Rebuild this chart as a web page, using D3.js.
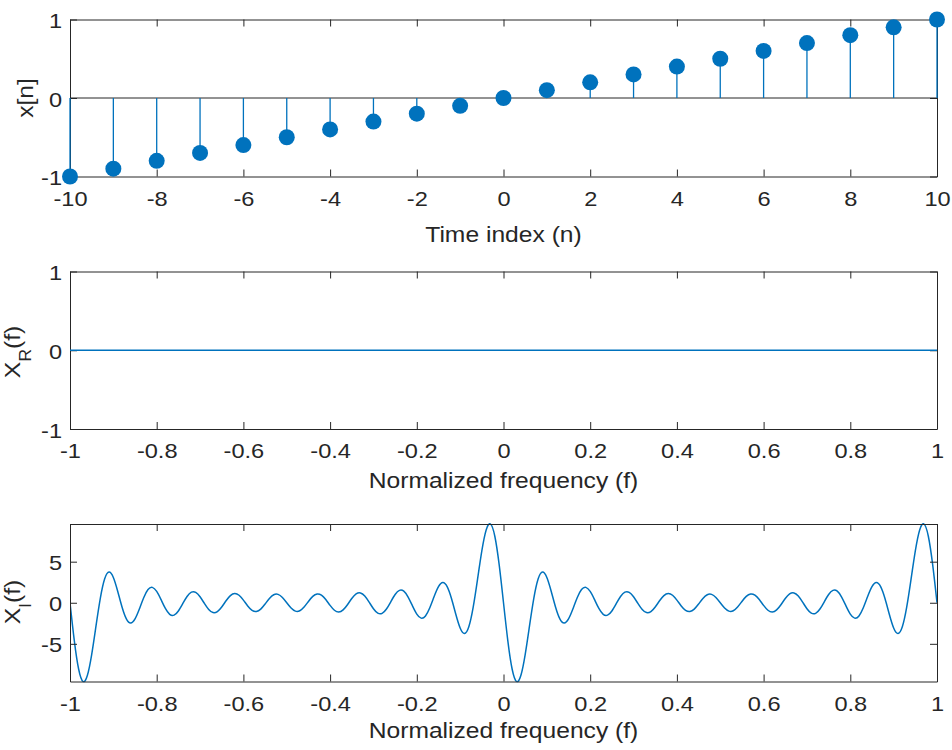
<!DOCTYPE html>
<html>
<head>
<meta charset="utf-8">
<script src="https://cdn.jsdelivr.net/npm/d3@7"></script>
<style>
  html, body { margin: 0; padding: 0; background: #ffffff; }
  svg { display: block; }
</style>
</head>
<body>
<svg id="chart" width="952" height="750"></svg>
<script>
// ---------------- DATA ----------------
const timeIndex = [-10,-9,-8,-7,-6,-5,-4,-3,-2,-1,0,1,2,3,4,5,6,7,8,9,10];
const xnValues  = [-1,-0.9,-0.8,-0.7,-0.6,-0.5,-0.4,-0.3,-0.2,-0.1,0,0.1,0.2,0.3,0.4,0.5,0.6,0.7,0.8,0.9,1];

const timeTicks = [-10,-8,-6,-4,-2,0,2,4,6,8,10];
const freqTicks = [-1,-0.8,-0.6,-0.4,-0.2,0,0.2,0.4,0.6,0.8,1];
const unitTicks = [-1,0,1];
const imagTicks = [-5,0,5];

// real part (flat zero line)
const realFreq   = [-1, 1];
const realValues = [0, 0];

// imaginary part, sampled every 0.01 in normalized frequency
const imagFreq = [
 -1.00,-0.99,-0.98,-0.97,-0.96,-0.95,-0.94,-0.93,-0.92,-0.91,
 -0.90,-0.89,-0.88,-0.87,-0.86,-0.85,-0.84,-0.83,-0.82,-0.81,
 -0.80,-0.79,-0.78,-0.77,-0.76,-0.75,-0.74,-0.73,-0.72,-0.71,
 -0.70,-0.69,-0.68,-0.67,-0.66,-0.65,-0.64,-0.63,-0.62,-0.61,
 -0.60,-0.59,-0.58,-0.57,-0.56,-0.55,-0.54,-0.53,-0.52,-0.51,
 -0.50,-0.49,-0.48,-0.47,-0.46,-0.45,-0.44,-0.43,-0.42,-0.41,
 -0.40,-0.39,-0.38,-0.37,-0.36,-0.35,-0.34,-0.33,-0.32,-0.31,
 -0.30,-0.29,-0.28,-0.27,-0.26,-0.25,-0.24,-0.23,-0.22,-0.21,
 -0.20,-0.19,-0.18,-0.17,-0.16,-0.15,-0.14,-0.13,-0.12,-0.11,
 -0.10,-0.09,-0.08,-0.07,-0.06,-0.05,-0.04,-0.03,-0.02,-0.01,
  0.00,
  0.01, 0.02, 0.03, 0.04, 0.05, 0.06, 0.07, 0.08, 0.09, 0.10,
  0.11, 0.12, 0.13, 0.14, 0.15, 0.16, 0.17, 0.18, 0.19, 0.20,
  0.21, 0.22, 0.23, 0.24, 0.25, 0.26, 0.27, 0.28, 0.29, 0.30,
  0.31, 0.32, 0.33, 0.34, 0.35, 0.36, 0.37, 0.38, 0.39, 0.40,
  0.41, 0.42, 0.43, 0.44, 0.45, 0.46, 0.47, 0.48, 0.49, 0.50,
  0.51, 0.52, 0.53, 0.54, 0.55, 0.56, 0.57, 0.58, 0.59, 0.60,
  0.61, 0.62, 0.63, 0.64, 0.65, 0.66, 0.67, 0.68, 0.69, 0.70,
  0.71, 0.72, 0.73, 0.74, 0.75, 0.76, 0.77, 0.78, 0.79, 0.80,
  0.81, 0.82, 0.83, 0.84, 0.85, 0.86, 0.87, 0.88, 0.89, 0.90,
  0.91, 0.92, 0.93, 0.94, 0.95, 0.96, 0.97, 0.98, 0.99, 1.00
];
const imagValues = [
  0,-4.632,-8.100,-9.589,-8.863,-6.314,-2.816, 0.568, 2.923, 3.750,
  3.078, 1.403,-0.521,-1.967,-2.469,-1.963,-0.757, 0.612, 1.604, 1.871,
  1.376, 0.377,-0.695,-1.410,-1.512,-1.000,-0.117, 0.763, 1.287, 1.262,
  0.727,-0.081,-0.822,-1.198,-1.071,-0.510, 0.243, 0.874, 1.128, 0.912,
  0.325,-0.385,-0.922,-1.070,-0.773,-0.158, 0.515, 0.970, 1.018, 0.643,
  0,-0.643,-1.018,-0.970,-0.515, 0.158, 0.773, 1.070, 0.922, 0.385,
 -0.325,-0.912,-1.128,-0.874,-0.243, 0.510, 1.071, 1.198, 0.822, 0.081,
 -0.727,-1.262,-1.287,-0.763, 0.117, 1.000, 1.512, 1.410, 0.695,-0.377,
 -1.376,-1.871,-1.604,-0.612, 0.757, 1.963, 2.469, 1.967, 0.521,-1.403,
 -3.078,-3.750,-2.923,-0.568, 2.816, 6.314, 8.863, 9.589, 8.100, 4.632,
  0,
 -4.632,-8.100,-9.589,-8.863,-6.314,-2.816, 0.568, 2.923, 3.750,
  3.078, 1.403,-0.521,-1.967,-2.469,-1.963,-0.757, 0.612, 1.604, 1.871,
  1.376, 0.377,-0.695,-1.410,-1.512,-1.000,-0.117, 0.763, 1.287, 1.262,
  0.727,-0.081,-0.822,-1.198,-1.071,-0.510, 0.243, 0.874, 1.128, 0.912,
  0.325,-0.385,-0.922,-1.070,-0.773,-0.158, 0.515, 0.970, 1.018, 0.643,
  0,-0.643,-1.018,-0.970,-0.515, 0.158, 0.773, 1.070, 0.922, 0.385,
 -0.325,-0.912,-1.128,-0.874,-0.243, 0.510, 1.071, 1.198, 0.822, 0.081,
 -0.727,-1.262,-1.287,-0.763, 0.117, 1.000, 1.512, 1.410, 0.695,-0.377,
 -1.376,-1.871,-1.604,-0.612, 0.757, 1.963, 2.469, 1.967, 0.521,-1.403,
 -3.078,-3.750,-2.923,-0.568, 2.816, 6.314, 8.863, 9.589, 8.100, 4.632,
  0
];

// ---------------- STYLE / LAYOUT ----------------
const AX = "#262626";
const BLUE = "#0072BD";
const FONT = "'Liberation Sans', Arial, Helvetica, sans-serif";
const TICK_FS = 20, LABEL_FS = 22;
const TICK_SX = 1.18, LABEL_SX = 1.12;
const left = 70, right = 937;

const svg = d3.select("#chart");

function drawAxes(g, x, y, top, bottom, xTicks, yTicks) {
  const styleAxis = sel => {
    sel.attr("font-family", null).attr("font-size", null);
    sel.selectAll("path.domain").attr("stroke", AX).attr("stroke-width", 1);
    sel.selectAll(".tick line").attr("stroke", AX).attr("stroke-width", 1);
    sel.selectAll(".tick text")
      .attr("fill", AX)
      .style("font-family", FONT)
      .style("font-size", TICK_FS + "px");
  };
  // bottom
  g.append("g").attr("transform", `translate(0,${bottom})`)
    .call(d3.axisBottom(x).tickValues(xTicks).tickSize(-7).tickSizeOuter(0)
      .tickPadding(15).tickFormat(d => String(d)))
    .call(styleAxis)
    .call(s => s.selectAll(".tick text").attr("transform", `scale(${TICK_SX},1)`));
  // top
  g.append("g").attr("transform", `translate(0,${top})`)
    .call(d3.axisTop(x).tickValues(xTicks).tickSize(-7).tickSizeOuter(0).tickFormat(""))
    .call(styleAxis);
  // left
  g.append("g").attr("transform", `translate(${left},0)`)
    .call(d3.axisLeft(y).tickValues(yTicks).tickSize(-7).tickSizeOuter(0)
      .tickPadding(8 / TICK_SX).tickFormat(d => String(d)))
    .call(styleAxis)
    .call(s => s.selectAll(".tick text").attr("transform", `scale(${TICK_SX},1)`).attr("dy", "0.4em"));
  // right
  g.append("g").attr("transform", `translate(${right},0)`)
    .call(d3.axisRight(y).tickValues(yTicks).tickSize(-7).tickSizeOuter(0).tickFormat(""))
    .call(styleAxis);
}

function xLabel(g, text, yBase) {
  g.append("text")
    .attr("transform", `translate(${(left + right) / 2},${yBase}) scale(${LABEL_SX},1)`)
    .attr("text-anchor", "middle")
    .attr("fill", AX)
    .style("font-family", FONT)
    .style("font-size", LABEL_FS + "px")
    .text(text);
}

function yLabel(g, main, sub, rest, xBase, yCenter) {
  const t = g.append("text")
    .attr("transform", `translate(${xBase},${yCenter}) rotate(-90) scale(${LABEL_SX},1)`)
    .attr("text-anchor", "middle")
    .attr("fill", AX)
    .style("font-family", FONT)
    .style("font-size", LABEL_FS + "px");
  t.append("tspan").text(main);
  if (sub) {
    t.append("tspan").attr("dy", 11).style("font-size", "16px").text(sub);
    t.append("tspan").attr("dy", -11).text(rest);
  }
}

// ---------------- PANEL 1 : stem plot ----------------
{
  const top = 19.5, bottom = 176.5;
  const x = d3.scaleLinear().domain(d3.extent(timeIndex)).range([left, right]);
  const y = d3.scaleLinear().domain([-1, 1]).range([bottom, top]);
  const g = svg.append("g");
  drawAxes(g, x, y, top, bottom, timeTicks, unitTicks);
  // baseline
  g.append("line")
    .attr("x1", x(timeIndex[0])).attr("x2", x(timeIndex[timeIndex.length - 1]))
    .attr("y1", y(0)).attr("y2", y(0))
    .attr("stroke", AX).attr("stroke-width", 1);
  const pts = timeIndex.map((n, i) => ({ n, v: xnValues[i] }));
  g.selectAll("line.stem").data(pts).join("line")
    .attr("class", "stem")
    .attr("x1", d => x(d.n)).attr("x2", d => x(d.n))
    .attr("y1", y(0)).attr("y2", d => y(d.v))
    .attr("stroke", BLUE).attr("stroke-width", 1.3);
  g.selectAll("circle.mk").data(pts).join("circle")
    .attr("class", "mk")
    .attr("cx", d => x(d.n)).attr("cy", d => y(d.v))
    .attr("r", 8).attr("fill", BLUE);
  xLabel(g, "Time index (n)", 241.5);
  yLabel(g, "x[n]", null, null, 33, 98);
}

// ---------------- PANEL 2 : real part ----------------
{
  const top = 271.5, bottom = 429;
  const x = d3.scaleLinear().domain([-1, 1]).range([left, right]);
  const y = d3.scaleLinear().domain([-1, 1]).range([bottom, top]);
  const g = svg.append("g");
  drawAxes(g, x, y, top, bottom, freqTicks, unitTicks);
  const line = d3.line().x((d, i) => x(realFreq[i])).y(d => y(d));
  g.append("path").datum(realValues)
    .attr("d", line).attr("fill", "none")
    .attr("stroke", BLUE).attr("stroke-width", 1.5);
  xLabel(g, "Normalized frequency (f)", 488);
  yLabel(g, "X", "R", "(f)", 20, 352);
}

// ---------------- PANEL 3 : imaginary part ----------------
{
  const top = 524, bottom = 681.5;
  const x = d3.scaleLinear().domain([-1, 1]).range([left, right]);
  const y = d3.scaleLinear().domain(d3.extent(imagValues)).range([bottom, top]);
  const g = svg.append("g");
  svg.append("defs").append("clipPath").attr("id", "clip3")
    .append("rect").attr("x", left).attr("y", top - 1)
    .attr("width", right - left).attr("height", bottom - top + 2);
  const line = d3.line().curve(d3.curveNatural)
    .x((d, i) => x(imagFreq[i])).y(d => y(d));
  g.append("path").datum(imagValues)
    .attr("clip-path", "url(#clip3)")
    .attr("d", line).attr("fill", "none")
    .attr("stroke", BLUE).attr("stroke-width", 1.5);
  drawAxes(g, x, y, top, bottom, freqTicks, imagTicks);
  xLabel(g, "Normalized frequency (f)", 738);
  yLabel(g, "X", "I", "(f)", 20, 602);
}
</script>
</body>
</html>
